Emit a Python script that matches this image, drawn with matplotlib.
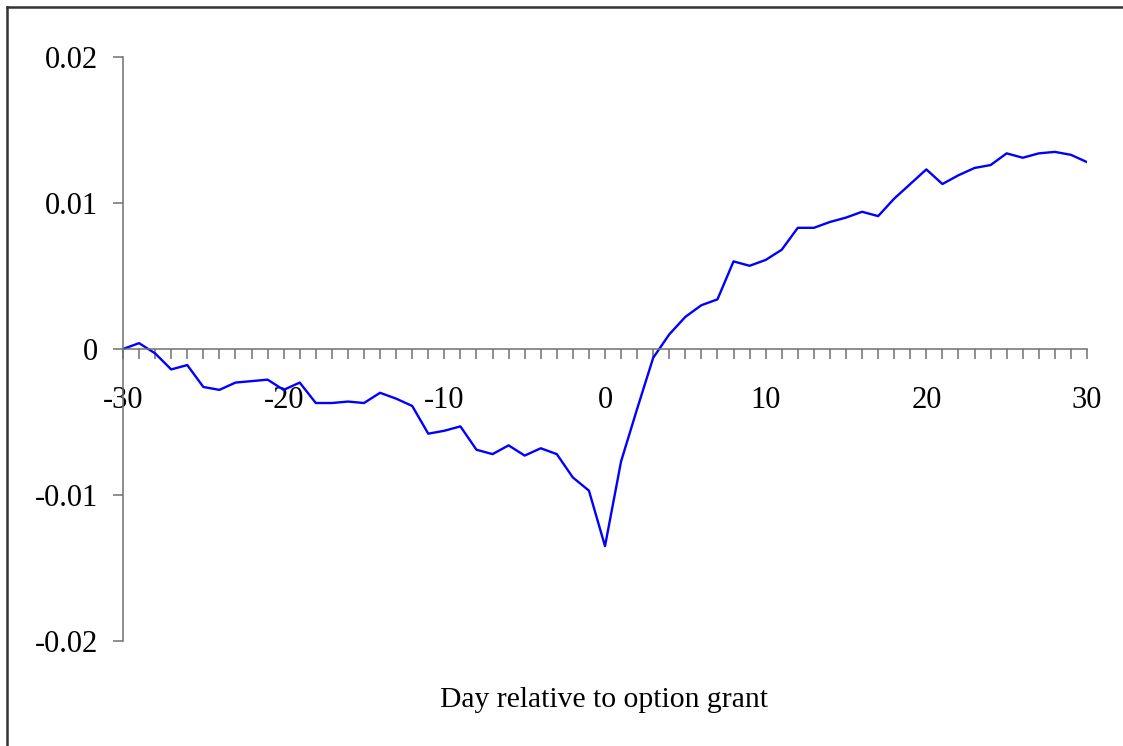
import matplotlib
matplotlib.use('Agg')
from matplotlib import pyplot as plt
from matplotlib.lines import Line2D
from matplotlib.ticker import MultipleLocator
import numpy as np

# cumulative abnormal return around option grant date
days = list(range(-30, 31))
car = [
    0.0000, 0.0004, -0.0003, -0.0014, -0.0011, -0.0026, -0.0028, -0.0023, -0.0022, -0.0021,
    -0.0028, -0.0023, -0.0037, -0.0037, -0.0036, -0.0037, -0.0030, -0.0034, -0.0039, -0.0058,
    -0.0056, -0.0053, -0.0069, -0.0072, -0.0066, -0.0073, -0.0068, -0.0072, -0.0088, -0.0097,
    -0.0135, -0.0077, -0.0041, -0.0006, 0.0010, 0.0022, 0.0030, 0.0034, 0.0060, 0.0057,
    0.0061, 0.0068, 0.0083, 0.0083, 0.0087, 0.0090, 0.0094, 0.0091, 0.0103, 0.0113,
    0.0123, 0.0113, 0.0119, 0.0124, 0.0126, 0.0134, 0.0131, 0.0134, 0.0135, 0.0133,
    0.0128,
]
x_ticks = [-30, -20, -10, 0, 10, 20, 30]
y_ticks = [-0.02, -0.01, 0, 0.01, 0.02]
y_labels = ['-0.02', '-0.01', '0', '0.01', '0.02']
x_labels = ['-30', '-20', '-10', '0', '10', '20', '30']

plt.rcParams['font.family'] = ['Liberation Serif', 'DejaVu Serif']

W, H = 1123, 746
fig = plt.figure(figsize=(W / 100, H / 100), dpi=100)
ax = fig.add_axes([123 / W, (H - 641) / H, (1087 - 123) / W, (641 - 57) / H])

ax.plot(days, car, color='#0000ff', lw=1.7)

ax.set_xlim(-30, 30)
ax.set_ylim(-0.02, 0.02)

axis_col = '#707070'
for s in ['top', 'right']:
    ax.spines[s].set_visible(False)
ax.spines['bottom'].set_position(('data', 0))
ax.spines['bottom'].set_color(axis_col)
ax.spines['left'].set_color(axis_col)
ax.spines['bottom'].set_linewidth(1.1)
ax.spines['left'].set_linewidth(1.1)

ax.set_xticks(x_ticks)
ax.set_xticklabels(x_labels)
ax.xaxis.set_minor_locator(MultipleLocator(1))
ax.set_yticks(y_ticks)
ax.set_yticklabels(y_labels)

ax.tick_params(axis='x', which='both', direction='out', length=7, width=1.1,
               color=axis_col, labelsize=22, pad=20)
ax.tick_params(axis='y', direction='out', length=7, width=1.1,
               color=axis_col, labelsize=22, pad=11)

fig.text(604 / W, 1 - 700 / H, 'Day relative to option grant',
         ha='center', va='center', fontsize=21.3)

# outer frame (left and top edges only visible)
fig.add_artist(Line2D([7 / W, 7 / W], [0, 1 - 7 / H], color='#333333', lw=1.8,
                      transform=fig.transFigure))
fig.add_artist(Line2D([7 / W, 1], [1 - 7 / H, 1 - 7 / H], color='#333333', lw=1.8,
                      transform=fig.transFigure))

plt.savefig('out.png', dpi=100)
